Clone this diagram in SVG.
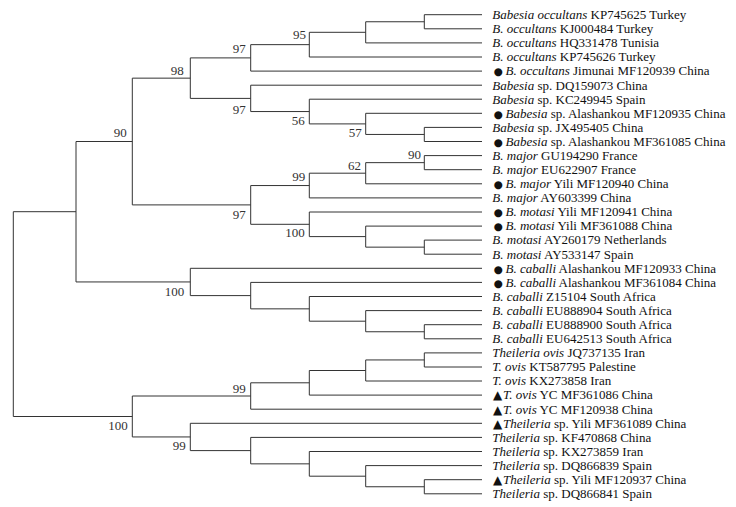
<svg xmlns="http://www.w3.org/2000/svg" width="736" height="507" viewBox="0 0 736 507">
<style>
.br{fill:none;stroke:#333;stroke-width:1}
.lf{font-family:"Liberation Serif","Times New Roman",serif;font-size:13px;fill:#111}
.it{font-style:italic}
.sy{font-family:"DejaVu Sans",sans-serif;font-size:10.5px}
.tr{font-family:"DejaVu Sans",sans-serif;font-size:12px}
.bs{font-family:"Liberation Serif","Times New Roman",serif;font-size:13px;fill:#333;text-anchor:end}
</style>
<rect width="736" height="507" fill="#fff"/>
<g id="connectors" class="br">
<path d="M482 14.7H424.3V28.8H482"/>
<path d="M424.3 21.75H365.7V42.9H482"/>
<path d="M365.7 32.3H309.3V57H482"/>
<path d="M309.3 44.65H250.7V71.1H482"/>
<path d="M482 127.4H424.3V141.5H482"/>
<path d="M482 113.3H365.7V134.45H424.3"/>
<path d="M482 99.2H309.3V123.9H365.7"/>
<path d="M482 85.2H250.7V111.55H309.3"/>
<path d="M250.7 57.9H190.3V98.4H250.7"/>
<path d="M482 155.6H424.3V169.7H482"/>
<path d="M424.3 162.65H365.7V183.8H482"/>
<path d="M365.7 173.2H309.3V197.9H482"/>
<path d="M482 240.1H424.3V254.2H482"/>
<path d="M482 226.1H365.7V247.15H424.3"/>
<path d="M482 212H309.3V236.6H365.7"/>
<path d="M309.3 185.55H250.7V224.3H309.3"/>
<path d="M190.3 78.15H132.3V204.9H250.7"/>
<path d="M482 324.7H424.3V338.8H482"/>
<path d="M482 310.6H365.7V331.75H424.3"/>
<path d="M482 296.5H309.3V321.2H365.7"/>
<path d="M482 282.4H250.7V308.85H309.3"/>
<path d="M482 268.3H190.3V295.6H250.7"/>
<path d="M132.3 141.5H76V281.95H190.3"/>
<path d="M482 352.9H424.3V367H482"/>
<path d="M424.3 359.95H365.7V381H482"/>
<path d="M365.7 370.5H309.3V395.1H482"/>
<path d="M309.3 382.8H250.7V409.2H482"/>
<path d="M482 479.7H424.3V493.8H482"/>
<path d="M482 465.6H365.7V486.75H424.3"/>
<path d="M482 451.5H309.3V476.2H365.7"/>
<path d="M482 437.4H250.7V463.85H309.3"/>
<path d="M482 423.3H190.3V450.6H250.7"/>
<path d="M250.7 396H132.3V436.95H190.3"/>
<path d="M76 211.7H13.3V416.5H132.3"/>
</g>
<g id="bootstrap">
<g id="n97u"><text class="bs" x="306" y="39.3">95</text></g>
<g id="n97a"><text class="bs" x="245.7" y="52.5">97</text></g>
<g id="n98"><text class="bs" x="183.7" y="75">98</text></g>
<g id="n97b"><text class="bs" x="245.7" y="113.7">97</text></g>
<g id="n56"><text class="bs" x="304.7" y="125.3">56</text></g>
<g id="n57"><text class="bs" x="361.7" y="136.7">57</text></g>
<g id="n90"><text class="bs" x="126.7" y="136.7">90</text></g>
<g id="n90r"><text class="bs" x="421" y="159">90</text></g>
<g id="n62"><text class="bs" x="361" y="170">62</text></g>
<g id="n99a"><text class="bs" x="305.3" y="181.3">99</text></g>
<g id="n97c"><text class="bs" x="245.7" y="219">97</text></g>
<g id="n100a"><text class="bs" x="304.7" y="236.7">100</text></g>
<g id="n100c"><text class="bs" x="184.3" y="295.7">100</text></g>
<g id="n99t"><text class="bs" x="245.7" y="393.3">99</text></g>
<g id="n100t"><text class="bs" x="127.7" y="430">100</text></g>
<g id="n99s"><text class="bs" x="185.7" y="450">99</text></g>
</g>
<g id="leaves" class="lf">
<g id="leaf1"><text x="492.3" y="19"><tspan class="it">Babesia occultans</tspan> KP745625 Turkey</text></g>
<g id="leaf2"><text x="492.3" y="33.1"><tspan class="it">B. occultans</tspan> KJ000484 Turkey</text></g>
<g id="leaf3"><text x="492.3" y="47.2"><tspan class="it">B. occultans</tspan> HQ331478 Tunisia</text></g>
<g id="leaf4"><text x="492.3" y="61.3"><tspan class="it">B. occultans</tspan> KP745626 Turkey</text></g>
<g id="leaf5"><text x="493.5" y="75.4"><tspan class="sy">●</tspan><tspan x="505.5" class="it">B. occultans</tspan> Jimunai MF120939 China</text></g>
<g id="leaf6"><text x="492.3" y="89.5"><tspan class="it">Babesia</tspan> sp. DQ159073 China</text></g>
<g id="leaf7"><text x="492.3" y="103.5"><tspan class="it">Babesia</tspan> sp. KC249945 Spain</text></g>
<g id="leaf8"><text x="493.5" y="117.6"><tspan class="sy">●</tspan><tspan x="505.5" class="it">Babesia</tspan> sp. Alashankou MF120935 China</text></g>
<g id="leaf9"><text x="492.3" y="131.7"><tspan class="it">Babesia</tspan> sp. JX495405 China</text></g>
<g id="leaf10"><text x="493.5" y="145.8"><tspan class="sy">●</tspan><tspan x="505.5" class="it">Babesia</tspan> sp. Alashankou MF361085 China</text></g>
<g id="leaf11"><text x="492.3" y="159.9"><tspan class="it">B. major</tspan> GU194290 France</text></g>
<g id="leaf12"><text x="492.3" y="174"><tspan class="it">B. major</tspan> EU622907 France</text></g>
<g id="leaf13"><text x="493.5" y="188.1"><tspan class="sy">●</tspan><tspan x="505.5" class="it">B. major</tspan> Yili MF120940 China</text></g>
<g id="leaf14"><text x="492.3" y="202.2"><tspan class="it">B. major</tspan> AY603399 China</text></g>
<g id="leaf15"><text x="493.5" y="216.3"><tspan class="sy">●</tspan><tspan x="505.5" class="it">B. motasi</tspan> Yili MF120941 China</text></g>
<g id="leaf16"><text x="493.5" y="230.4"><tspan class="sy">●</tspan><tspan x="505.5" class="it">B. motasi</tspan> Yili MF361088 China</text></g>
<g id="leaf17"><text x="492.3" y="244.4"><tspan class="it">B. motasi</tspan> AY260179 Netherlands</text></g>
<g id="leaf18"><text x="492.3" y="258.5"><tspan class="it">B. motasi</tspan> AY533147 Spain</text></g>
<g id="leaf19"><text x="493.5" y="272.6"><tspan class="sy">●</tspan><tspan x="505.5" class="it">B. caballi</tspan> Alashankou MF120933 China</text></g>
<g id="leaf20"><text x="493.5" y="286.7"><tspan class="sy">●</tspan><tspan x="505.5" class="it">B. caballi</tspan> Alashankou MF361084 China</text></g>
<g id="leaf21"><text x="492.3" y="300.8"><tspan class="it">B. caballi</tspan> Z15104 South Africa</text></g>
<g id="leaf22"><text x="492.3" y="314.9"><tspan class="it">B. caballi</tspan> EU888904 South Africa</text></g>
<g id="leaf23"><text x="492.3" y="329"><tspan class="it">B. caballi</tspan> EU888900 South Africa</text></g>
<g id="leaf24"><text x="492.3" y="343.1"><tspan class="it">B. caballi</tspan> EU642513 South Africa</text></g>
<g id="leaf25"><text x="492.3" y="357.2"><tspan class="it">Theileria ovis</tspan> JQ737135 Iran</text></g>
<g id="leaf26"><text x="492.3" y="371.3"><tspan class="it">T. ovis</tspan> KT587795 Palestine</text></g>
<g id="leaf27"><text x="492.3" y="385.3"><tspan class="it">T. ovis</tspan> KX273858 Iran</text></g>
<g id="leaf28"><text x="493" y="399.4"><tspan class="tr">▲</tspan><tspan x="503" class="it">T. ovis</tspan> YC MF361086 China</text></g>
<g id="leaf29"><text x="493" y="413.5"><tspan class="tr">▲</tspan><tspan x="503" class="it">T. ovis</tspan> YC MF120938 China</text></g>
<g id="leaf30"><text x="493" y="427.6"><tspan class="tr">▲</tspan><tspan x="503" class="it">Theileria</tspan> sp. Yili MF361089 China</text></g>
<g id="leaf31"><text x="492.3" y="441.7"><tspan class="it">Theileria</tspan> sp. KF470868 China</text></g>
<g id="leaf32"><text x="492.3" y="455.8"><tspan class="it">Theileria</tspan> sp. KX273859 Iran</text></g>
<g id="leaf33"><text x="492.3" y="469.9"><tspan class="it">Theileria</tspan> sp. DQ866839 Spain</text></g>
<g id="leaf34"><text x="493" y="484"><tspan class="tr">▲</tspan><tspan x="503" class="it">Theileria</tspan> sp. Yili MF120937 China</text></g>
<g id="leaf35"><text x="492.3" y="498.1"><tspan class="it">Theileria</tspan> sp. DQ866841 Spain</text></g>
</g>
</svg>
